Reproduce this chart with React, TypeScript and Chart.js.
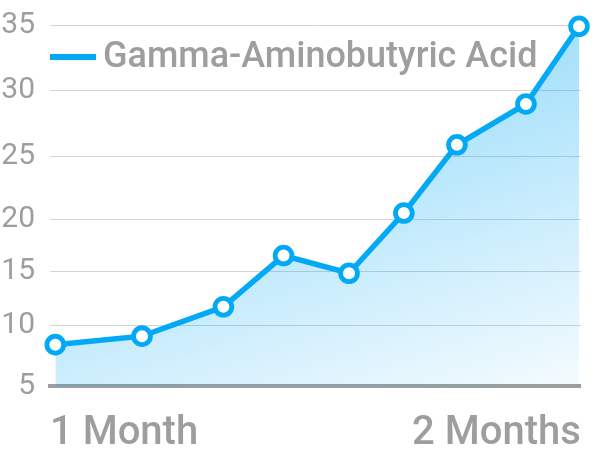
import React, { useEffect, useRef } from 'react';
import { Chart, registerables, LinearScale } from 'chart.js';

// ---- data ----
const seriesLabel = 'Gamma-Aminobutyric Acid';
const days = [30.3, 35.2, 39.8, 43.2, 46.9, 50.0, 53.0, 56.9, 59.9];
const values = [8.4, 9.1, 11.7, 16.5, 14.8, 20.5, 25.9, 29.0, 34.9];
const xTickValues = [30, 60];
const xTickLabels = ['1 Month', '2 Months'];
const yTickValues = [5, 10, 15, 20, 25, 30, 35];

// ---- styling ----
const LINE_COLOR = '#03a9f4';
const TEXT_COLOR = '#9e9e9e';
const GRID_COLOR = '#d4d4d4';
const FONT_FAMILY = 'Roboto';
// relative height of each y gridline inside the plot area (the source axis is not evenly spaced)
const Y_GRID_FRACTIONS = [0, 0.1684, 0.3183, 0.4617, 0.6354, 0.8177, 1];

function warp(v: number): number {
  const t = yTickValues;
  const p = Y_GRID_FRACTIONS;
  const n = t.length - 1;
  if (v <= t[0]) return p[0] + ((v - t[0]) * (p[1] - p[0])) / (t[1] - t[0]);
  for (let i = 1; i <= n; i++) {
    if (v <= t[i]) return p[i - 1] + ((v - t[i - 1]) / (t[i] - t[i - 1])) * (p[i] - p[i - 1]);
  }
  return p[n] + ((v - t[n]) * (p[n] - p[n - 1])) / (t[n] - t[n - 1]);
}

function unwarp(f: number): number {
  const t = yTickValues;
  const p = Y_GRID_FRACTIONS;
  const n = t.length - 1;
  if (f <= p[0]) return t[0] + ((f - p[0]) * (t[1] - t[0])) / (p[1] - p[0]);
  for (let i = 1; i <= n; i++) {
    if (f <= p[i]) return t[i - 1] + ((f - p[i - 1]) / (p[i] - p[i - 1])) * (t[i] - t[i - 1]);
  }
  return t[n] + ((f - p[n]) * (t[n] - t[n - 1])) / (p[n] - p[n - 1]);
}

class WarpScale extends (LinearScale as any) {
  static id = 'warp';
  static defaults = {};
  buildTicks() {
    super.buildTicks();
    return yTickValues.map((value) => ({ value }));
  }
  getPixelForValue(value: number) {
    if (value === null || value === undefined || isNaN(value)) return NaN;
    return (this as any).getPixelForDecimal(warp(value));
  }
  getValueForPixel(pixel: number) {
    return unwarp((this as any).getDecimalForPixel(pixel));
  }
}

Chart.register(...registerables, WarpScale as any);

const inlineLegend = {
  id: 'inlineLegend',
  afterDraw(chart: any) {
    const { ctx, chartArea } = chart;
    const ds = chart.data.datasets[0];
    ctx.save();
    ctx.fillStyle = LINE_COLOR;
    ctx.fillRect(chartArea.left, chartArea.top + 29, 46, 6);
    ctx.font = `500 36px ${FONT_FAMILY}`;
    ctx.fillStyle = TEXT_COLOR;
    ctx.textBaseline = 'middle';
    ctx.textAlign = 'left';
    ctx.fillText(ds.label, chartArea.left + 53, chartArea.top + 33);
    ctx.restore();
  },
};

function fillGradient(context: any) {
  const chart = context.chart;
  const a = chart.chartArea;
  if (!a) return 'rgba(3,169,244,0.25)';
  const L = (a.bottom - a.top) * 1.44;
  const g = chart.ctx.createLinearGradient(a.left, a.top, a.left + 0.31 * L, a.top + 0.95 * L);
  g.addColorStop(0, 'rgba(3,169,244,0.52)');
  g.addColorStop(1, 'rgba(3,169,244,0.03)');
  return g;
}

export default function App() {
  const canvasRef = useRef<HTMLCanvasElement | null>(null);

  useEffect(() => {
    const canvas = canvasRef.current;
    if (!canvas) return;
    const chart = new Chart(canvas, {
      type: 'line',
      data: {
        datasets: [
          {
            label: seriesLabel,
            data: days.map((d, i) => ({ x: d, y: values[i] })),
            borderColor: LINE_COLOR,
            borderWidth: 5.5,
            backgroundColor: fillGradient,
            fill: 'start',
            tension: 0,
            pointRadius: 8.4,
            pointBorderWidth: 4.8,
            pointBackgroundColor: '#ffffff',
            pointBorderColor: LINE_COLOR,
            clip: false as any,
          },
        ],
      },
      options: {
        responsive: false,
        animation: false,
        events: [],
        layout: { padding: { top: 25, right: 12, left: 0, bottom: 0 } },
        plugins: {
          legend: { display: false },
          tooltip: { enabled: false },
          title: { display: false },
        },
        scales: {
          x: {
            type: 'linear',
            min: xTickValues[0],
            max: xTickValues[xTickValues.length - 1],
            afterBuildTicks: (scale: any) => {
              scale.ticks = xTickValues.map((value) => ({ value }));
            },
            afterFit: (scale: any) => {
              scale.height = 66;
              scale.paddingLeft = 0;
              scale.paddingRight = 0;
            },
            grid: { display: false, drawTicks: false },
            border: { display: true, color: TEXT_COLOR, width: 4 },
            ticks: {
              autoSkip: false,
              maxRotation: 0,
              align: 'inner',
              padding: 24,
              color: TEXT_COLOR,
              font: { family: FONT_FAMILY, size: 40, weight: '500' },
              callback: (v: any) => {
                const i = xTickValues.indexOf(Number(v));
                return i >= 0 ? xTickLabels[i] : '';
              },
            },
          },
          y: {
            type: 'warp' as any,
            min: yTickValues[0],
            max: yTickValues[yTickValues.length - 1],
            afterFit: (scale: any) => {
              scale.width = 50;
              scale.paddingTop = 0;
              scale.paddingBottom = 0;
            },
            grid: { color: GRID_COLOR, lineWidth: 1, drawTicks: false },
            border: { display: false },
            ticks: {
              padding: 15,
              color: TEXT_COLOR,
              font: { family: FONT_FAMILY, size: 30 },
              callback: (v: any) => String(v),
            },
          } as any,
        },
      },
      plugins: [inlineLegend],
    });
    return () => chart.destroy();
  }, []);

  return (
    <div style={{ position: 'fixed', left: 0, top: 0, width: 594, height: 452, background: '#ffffff' }}>
      <canvas ref={canvasRef} width={594} height={452} style={{ display: 'block' }} />
    </div>
  );
}
